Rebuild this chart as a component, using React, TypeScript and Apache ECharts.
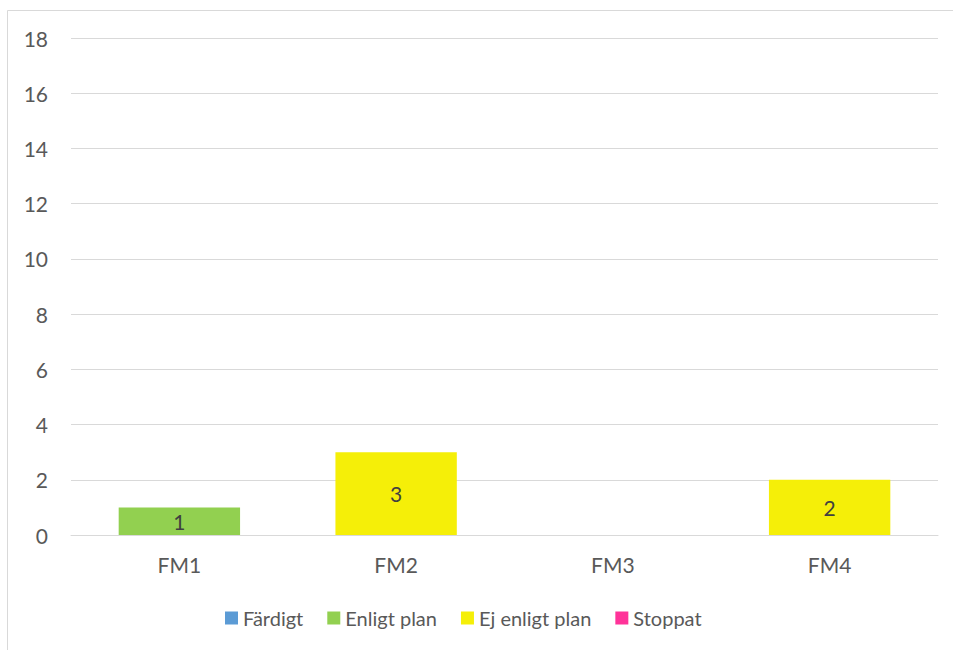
import React, { useEffect, useRef } from "react";
import * as echarts from "echarts";

const categories = ["FM1", "FM2", "FM3", "FM4"];
const fardigt = [0, 0, 0, 0];
const enligtPlan = [1, 0, 0, 0];
const ejEnligtPlan = [0, 3, 0, 2];
const stoppat = [0, 0, 0, 0];
const seriesNames = ["Färdigt", "Enligt plan", "Ej enligt plan", "Stoppat"];
const seriesColors = ["#5B9BD5", "#92D050", "#F5EF08", "#FF3399"];

const FONT = "Lato, 'Open Sans', sans-serif";
const FS = 21;

export default function App() {
  const ref = useRef<HTMLDivElement>(null);
  useEffect(() => {
    if (!ref.current) return;
    const chart = echarts.init(ref.current, undefined, { renderer: "svg" });
    const data = [fardigt, enligtPlan, ejEnligtPlan, stoppat];
    chart.setOption({
      animation: false,
      backgroundColor: "#ffffff",
      graphic: [
        {
          type: "rect",
          shape: { x: 7.5, y: 10.5, width: 1000, height: 700 },
          style: { fill: "none", stroke: "#D9D9D9", lineWidth: 1 },
          silent: true,
        },
      ],
      grid: { left: 71, right: 15, top: 38, bottom: 115, containLabel: false },
      legend: {
        top: 603,
        left: 220,
        itemWidth: 13,
        itemHeight: 13,
        itemGap: 24,
        icon: "rect",
        textStyle: { fontFamily: FONT, fontSize: 20, color: "#595959" },
        data: seriesNames,
      },
      xAxis: {
        type: "category",
        data: categories,
        axisLine: { show: true, lineStyle: { color: "#D9D9D9", width: 1 } },
        axisTick: { show: false },
        axisLabel: { fontFamily: FONT, fontSize: FS, color: "#595959", margin: 19 },
      },
      yAxis: {
        type: "value",
        min: 0,
        max: 18,
        interval: 2,
        axisLine: { show: false },
        axisTick: { show: false },
        splitLine: { lineStyle: { color: "#D9D9D9", width: 1 } },
        axisLabel: { fontFamily: FONT, fontSize: FS, color: "#595959", margin: 23 },
      },
      series: seriesNames.map((name, i) => ({
        name,
        type: "bar",
        stack: "total",
        barWidth: "56%",
        itemStyle: { color: seriesColors[i] },
        label: {
          show: true,
          position: "inside",
          fontFamily: FONT,
          fontSize: FS,
          color: "#404040",
          formatter: (p: any) => (p.value ? String(p.value) : ""),
        },
        data: data[i].map((v) => (v === 0 ? null : v)),
      })),
    });
    return () => chart.dispose();
  }, []);
  return (
    <div
      ref={ref}
      style={{ position: "fixed", left: 0, top: 0, width: 953, height: 650 }}
    />
  );
}
